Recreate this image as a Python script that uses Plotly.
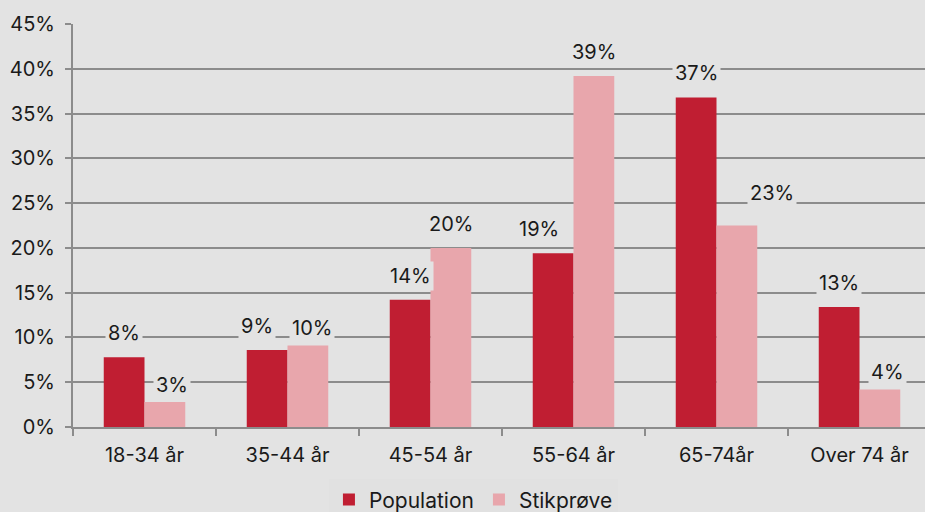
import plotly.graph_objects as go

categories = ["18-34 år", "35-44 år", "45-54 år", "55-64 år", "65-74år", "Over 74 år"]
population = [7.8, 8.6, 14.2, 19.4, 36.8, 13.4]
stikprove = [2.8, 9.1, 20.0, 39.2, 22.5, 4.2]
population_labels = ["8%", "9%", "14%", "19%", "37%", "13%"]
stikprove_labels = ["3%", "10%", "20%", "39%", "23%", "4%"]
y_ticks = [0, 5, 10, 15, 20, 25, 30, 35, 40, 45]

BG = "#e3e3e3"
GRID = "#8c8c8c"
POP_C = "#c01e32"
STIK_C = "#e8a6ac"
TXT = "#1a1a1a"
FONT = "Inter"
bargap = 0.43
LABEL_SHIFT = 24
# manual label nudges (pixels), as placed in the original
pop_nudge = {1: (-10, 0), 3: (-14, 0)}
stik_nudge = {0: (7, -7), 1: (4, -6), 4: (35, 9), 5: (8, -7)}

fig = go.Figure()
fig.add_trace(go.Bar(name="Population", x=categories, y=population, marker_color=POP_C,
                     marker_line_width=0))
fig.add_trace(go.Bar(name="Stikprøve", x=categories, y=stikprove, marker_color=STIK_C,
                     marker_line_width=0))

off = (1 - bargap) / 4
annotations = []
for i in range(len(categories)):
    items = [(population[i], population_labels[i], -off, pop_nudge.get(i, (0, 0))),
             (stikprove[i], stikprove_labels[i], off, stik_nudge.get(i, (0, 0)))]
    for val, lab, dx, (nx, ny) in items:
        annotations.append(dict(
            x=i + dx, y=val, xref="x", yref="y", text=lab,
            showarrow=False, yanchor="middle", yshift=LABEL_SHIFT + ny, xshift=nx,
            bgcolor=BG, borderpad=2,
            font=dict(family=FONT, size=20, color=TXT),
        ))

fig.update_layout(
    width=925, height=512,
    margin=dict(l=73, r=0, t=24, b=85, autoexpand=False),
    paper_bgcolor=BG, plot_bgcolor=BG,
    barmode="group", bargap=bargap, bargroupgap=0,
    font=dict(family=FONT, size=20, color=TXT),
    showlegend=True,
    legend=dict(orientation="h", x=0.47, xanchor="center", y=-0.13, yanchor="top",
                bgcolor="#e1e1e1", font=dict(family=FONT, size=21, color=TXT),
                itemwidth=30, traceorder="normal"),
    annotations=annotations,
    xaxis=dict(type="category", range=[-0.5, 5.458], showgrid=False, automargin=False,
               showline=True, linecolor=GRID, linewidth=2,
               ticks="outside", tickson="boundaries", ticklen=7, tickcolor=GRID,
               tickwidth=2, ticklabelstandoff=9,
               tickfont=dict(family=FONT, size=20, color=TXT)),
    yaxis=dict(range=[0, 45], tickvals=y_ticks, ticktext=[f"{v}%" for v in y_ticks],
               showgrid=True, gridcolor=GRID, gridwidth=2, automargin=False,
               showline=True, linecolor=GRID, linewidth=2,
               ticks="outside", ticklen=6, tickcolor=GRID, tickwidth=2,
               zeroline=False, ticklabelstandoff=6,
               tickfont=dict(family=FONT, size=20, color=TXT)),
)

fig.write_html("out.html")
